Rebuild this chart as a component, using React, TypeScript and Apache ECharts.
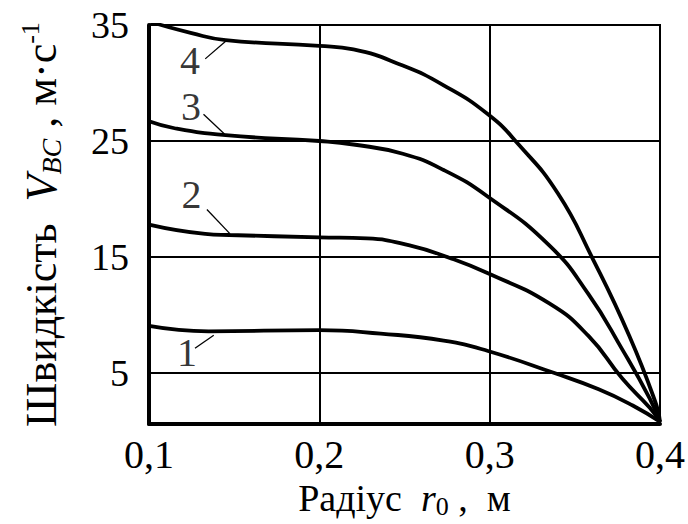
import React, { useEffect, useRef } from "react";
import * as echarts from "echarts";

const radius1 = [0.1, 0.135, 0.2, 0.236, 0.273, 0.299, 0.338, 0.364, 0.384, 0.4];
const speed1 = [9.06, 8.6, 8.7, 8.4, 7.8, 6.9, 5.0, 3.6, 2.2, 0.8];

const radius2 = [0.1, 0.133, 0.147, 0.2, 0.228, 0.253, 0.277, 0.299, 0.335, 0.358, 0.378, 0.394, 0.4];
const speed2 = [17.8, 17.0, 16.9, 16.7, 16.6, 16.0, 14.9, 13.6, 11.0, 8.2, 4.5, 2.0, 0.8];

const radius3 = [0.1, 0.115, 0.145, 0.2, 0.22, 0.249, 0.273, 0.299, 0.335, 0.358, 0.378, 0.394, 0.4];
const speed3 = [26.7, 26.1, 25.5, 25.0, 24.7, 23.9, 22.5, 20.2, 16.0, 11.8, 7.0, 2.8, 0.8];

const radius4 = [0.1, 0.125, 0.145, 0.2, 0.22, 0.249, 0.273, 0.299, 0.317, 0.34, 0.36, 0.382, 0.398, 0.4];
const speed4 = [35.3, 34.3, 33.7, 33.2, 32.9, 31.5, 29.8, 27.3, 24.7, 20.5, 15.0, 8.2, 2.2, 0.8];

const curveNames = ["1", "2", "3", "4"];
const labelRadius = [0.1223, 0.125, 0.1247, 0.124];
const labelSpeed = [6.8, 20.4, 28.0, 31.9];
const leaderStart = [[0.127, 7.14], [0.134, 19.1], [0.132, 27.3], [0.133, 32.08]];
const leaderEnd = [[0.138, 8.26], [0.1476, 17.0], [0.1443, 25.6], [0.145, 33.6]];

const xTicks = [0.1, 0.2, 0.3, 0.4];
const yTicks = [5, 15, 25, 35];

const FONT = "'Liberation Serif', 'Times New Roman', serif";

export default function App() {
  const ref = useRef<HTMLDivElement>(null);
  useEffect(() => {
    if (!ref.current) return;
    const chart = echarts.init(ref.current, undefined, { renderer: "svg" });
    const pairs = (xs: number[], ys: number[]) => xs.map((x, i) => [x, ys[i]]);
    const curves = [
      pairs(radius1, speed1),
      pairs(radius2, speed2),
      pairs(radius3, speed3),
      pairs(radius4, speed4),
    ];
    chart.setOption({
      animation: false,
      backgroundColor: "#fff",
      grid: {
        left: 149,
        right: 28,
        top: 25,
        bottom: 92,
        show: true,
        borderColor: "#000",
        borderWidth: 2,
      },
      xAxis: {
        type: "value",
        min: 0.1,
        max: 0.4,
        interval: 0.1,
        axisLine: { show: true, onZero: false, lineStyle: { color: "#000", width: 4 } },
        axisTick: { show: false, customValues: xTicks },
        splitLine: { show: true, lineStyle: { color: "#000", width: 2 } },
        axisLabel: {
          customValues: xTicks,
          margin: 10,
          color: "#000",
          fontFamily: FONT,
          fontSize: 40,
          formatter: (v: number) => v.toFixed(1).replace(".", ","),
        },
        name: "{a|Радіус  }{r|r}{sub|0}{a| ,  м}",
        nameLocation: "middle",
        nameGap: 52,
        nameTextStyle: {
          color: "#000",
          rich: {
            a: { fontFamily: FONT, fontSize: 38, color: "#000", lineHeight: 42 },
            r: { fontFamily: FONT, fontSize: 38, fontStyle: "italic", color: "#000", lineHeight: 42 },
            sub: { fontFamily: FONT, fontSize: 26, color: "#000", verticalAlign: "bottom", lineHeight: 24 },
          },
        },
      },
      yAxis: {
        type: "value",
        min: 0.6,
        max: 35,
        axisLine: { show: true, onZero: false, lineStyle: { color: "#000", width: 4 } },
        axisTick: { show: false, customValues: yTicks },
        splitLine: { show: true, lineStyle: { color: "#000", width: 2 } },
        axisLabel: {
          customValues: yTicks,
          margin: 20,
          color: "#000",
          fontFamily: FONT,
          fontSize: 38,
        },
        name: "{a|Швидкість  }{v|V}{sub|BC}{a| , м·с}{sup|-1}",
        nameLocation: "middle",
        nameRotate: 90,
        nameGap: 84,
        nameTextStyle: {
          color: "#000",
          rich: {
            a: { fontFamily: FONT, fontSize: 44, color: "#000", lineHeight: 48 },
            v: { fontFamily: FONT, fontSize: 44, fontStyle: "italic", color: "#000", lineHeight: 48 },
            sub: { fontFamily: FONT, fontSize: 28, fontStyle: "italic", color: "#000", verticalAlign: "bottom", lineHeight: 26 },
            sup: { fontFamily: FONT, fontSize: 26, color: "#000", verticalAlign: "top", lineHeight: 24 },
          },
        },
      },
      series: [
        ...curves.map((d, i) => ({
          type: "line",
          name: curveNames[i],
          data: d,
          smooth: 0.5,
          showSymbol: false,
          symbol: "none",
          clip: true,
          lineStyle: { color: "#000", width: 3.8 },
          z: 5,
        })),
        {
          type: "lines",
          coordinateSystem: "cartesian2d",
          data: leaderStart.map((s, i) => ({ coords: [s, leaderEnd[i]] })),
          lineStyle: { color: "#000", width: 1.3, opacity: 1 },
          symbol: "none",
          z: 6,
        },
        {
          type: "scatter",
          symbolSize: 0,
          data: labelRadius.map((x, i) => [x, labelSpeed[i], curveNames[i]]),
          label: {
            show: true,
            position: "inside",
            color: "#000",
            fontFamily: FONT,
            fontSize: 40,
            formatter: (p: any) => p.value[2],
          },
          z: 7,
        },
      ],
    });
    return () => chart.dispose();
  }, []);
  return <div ref={ref} style={{ width: 688, height: 524, position: "absolute", left: 0, top: 0 }} />;
}
